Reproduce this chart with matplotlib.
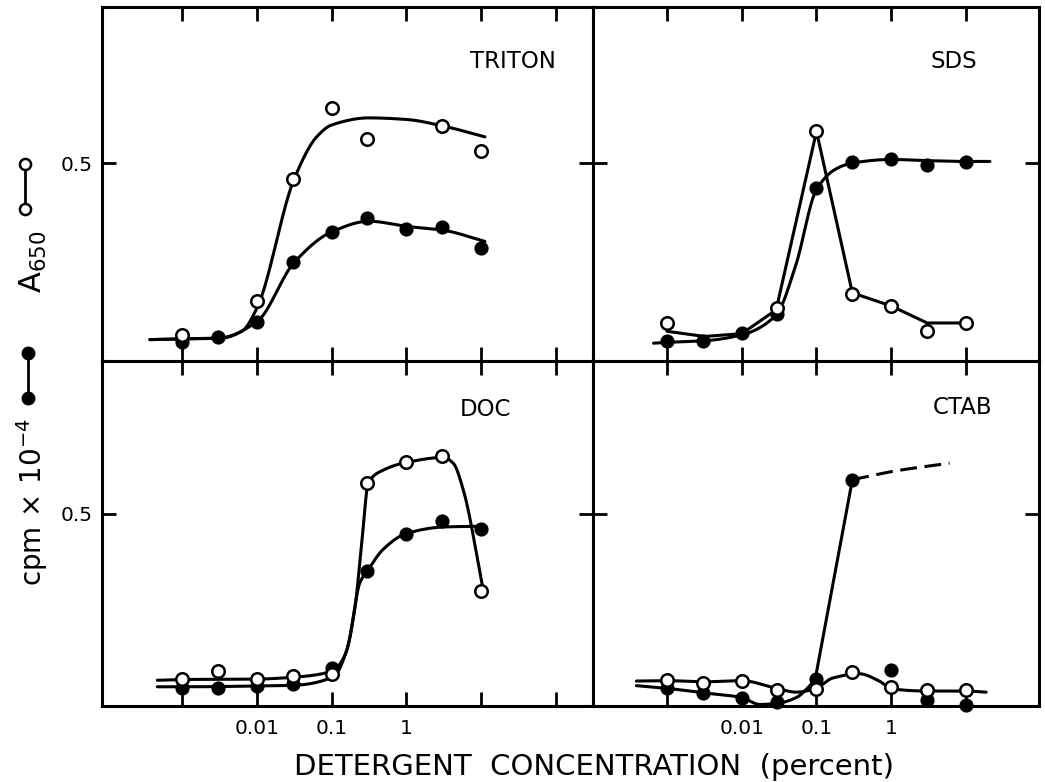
import numpy as np
import matplotlib
matplotlib.use("Agg")
import matplotlib.pyplot as plt
from matplotlib.lines import Line2D

# ---------------- data ----------------
conc = [0.001, 0.003, 0.01, 0.03, 0.1, 0.3, 1, 3, 10]
nan = np.nan

triton_open = [0.066, nan, 0.152, 0.46, 0.64, 0.56, nan, 0.593, 0.53]
triton_filled = [0.047, 0.060, 0.099, 0.25, 0.326, 0.36, 0.334, 0.338, 0.285]
sds_open = [0.096, nan, nan, 0.133, 0.58, 0.17, 0.139, 0.077, 0.096]
sds_filled = [0.051, 0.050, 0.070, 0.118, 0.437, 0.502, 0.51, 0.495, 0.503]
doc_open = [0.071, 0.090, 0.070, 0.077, 0.082, 0.58, 0.636, 0.651, 0.299]
doc_filled = [0.047, 0.047, 0.052, 0.056, 0.100, 0.352, 0.449, 0.481, 0.462]
ctab_open = [0.067, 0.060, 0.066, 0.041, 0.043, 0.088, 0.049, 0.041, 0.041]
ctab_filled = [0.047, 0.034, 0.022, 0.011, 0.069, 0.589, 0.093, 0.016, 0.002]

# hand-drawn fitted curves (log10 concentration, value)
triton_open_curve_lx = [-3.43, -3.0, -2.5, -2.2, -2.0, -1.5, -1.2, -1.0, -0.5, 0.0, 0.5, 1.05]
triton_open_curve_y = [0.054, 0.056, 0.057, 0.075, 0.133, 0.46, 0.566, 0.596, 0.614, 0.610, 0.593, 0.566]
triton_filled_curve_lx = [-3.43, -3.0, -2.5, -2.0, -1.5, -1.0, -0.5, 0.0, 0.5, 1.05]
triton_filled_curve_y = [0.054, 0.056, 0.058, 0.099, 0.249, 0.326, 0.353, 0.34, 0.33, 0.302]

sds_filled_curve_lx = [-3.18, -3.0, -2.5, -2.0, -1.54, -1.28, -1.0, -0.74, -0.52, 0.0, 0.48, 0.98, 1.32]
sds_filled_curve_y = [0.045, 0.047, 0.051, 0.066, 0.116, 0.24, 0.433, 0.485, 0.50, 0.509, 0.506, 0.504, 0.504]
sds_open_curve_lx = [-3.0, -2.5, -2.0, -1.54, -1.0, -0.52, 0.0, 0.48, 0.98]
sds_open_curve_y = [0.075, 0.062, 0.069, 0.129, 0.58, 0.172, 0.139, 0.096, 0.096]

doc_open_curve_lx = [-3.33, -3.0, -2.0, -1.5, -1.18, -0.97, -0.82, -0.69, -0.59, -0.51, -0.31, 0.0, 0.5, 0.63, 0.76, 1.03]
doc_open_curve_y = [0.067, 0.069, 0.070, 0.075, 0.082, 0.094, 0.133, 0.253, 0.44, 0.58, 0.614, 0.634, 0.647, 0.631, 0.563, 0.299]
doc_filled_curve_lx = [-3.33, -3.0, -2.0, -1.5, -0.97, -0.79, -0.62, -0.52, -0.31, 0.0, 0.5, 1.03]
doc_filled_curve_y = [0.050, 0.050, 0.052, 0.054, 0.077, 0.15, 0.322, 0.352, 0.408, 0.449, 0.466, 0.468]

ctab_open_curve_lx = [-3.41, -3.0, -2.5, -2.0, -1.52, -1.27, -1.02, -0.78, -0.43, -0.16, 0.0, 0.47, 0.98, 1.27]
ctab_open_curve_y = [0.065, 0.066, 0.063, 0.066, 0.045, 0.036, 0.045, 0.073, 0.084, 0.065, 0.045, 0.039, 0.039, 0.036]
ctab_filled_curve_lx = [-3.41, -3.0, -2.5, -2.0, -1.76, -1.52, -1.27, -1.02]
ctab_filled_curve_y = [0.053, 0.046, 0.034, 0.022, 0.004, 0.007, 0.022, 0.067]
ctab_jump_lx = [-1.02, -0.52]
ctab_jump_y = [0.067, 0.589]
ctab_dash_lx = [-0.52, 0.06, 0.78]
ctab_dash_y = [0.589, 0.612, 0.632]

x_ticks = [0.001, 0.01, 0.1, 1, 10, 100]
x_ticklabels = ["", "0.01", "0.1", "1", "", ""]


# ---------------- helpers ----------------
def pchip(xk, yk, xs):
    xk = np.asarray(xk, float)
    yk = np.asarray(yk, float)
    h = np.diff(xk)
    d = np.diff(yk) / h
    n = len(xk)
    m = np.zeros(n)
    for k in range(1, n - 1):
        if d[k - 1] * d[k] <= 0:
            m[k] = 0.0
        else:
            w1 = 2 * h[k] + h[k - 1]
            w2 = h[k] + 2 * h[k - 1]
            m[k] = (w1 + w2) / (w1 / d[k - 1] + w2 / d[k])
    m[0] = d[0]
    m[-1] = d[-1]
    idx = np.clip(np.searchsorted(xk, xs) - 1, 0, n - 2)
    t = (xs - xk[idx]) / h[idx]
    h00 = 2 * t**3 - 3 * t**2 + 1
    h10 = t**3 - 2 * t**2 + t
    h01 = -2 * t**3 + 3 * t**2
    h11 = t**3 - t**2
    return (h00 * yk[idx] + h10 * h[idx] * m[idx]
            + h01 * yk[idx + 1] + h11 * h[idx] * m[idx + 1])


def curve(ax, lx, y, smooth=True, **kw):
    if smooth:
        xs = np.linspace(lx[0], lx[-1], 400)
        ys = pchip(lx, y, xs)
    else:
        xs = np.asarray(lx, float)
        ys = np.asarray(y, float)
    ax.plot(10 ** xs, ys, color="black", lw=2.2, solid_capstyle="round",
            zorder=2, **kw)


def points(ax, vals, filled):
    if filled:
        ax.plot(conc, vals, "o", ms=9, mfc="black", mec="black", mew=1.2,
                zorder=3, clip_on=False)
    else:
        ax.plot(conc, vals, "o", ms=9, mfc="white", mec="black", mew=1.8,
                zorder=4, clip_on=False)


# ---------------- figure ----------------
W, H = 1045, 782
fig = plt.figure(figsize=(W / 100, H / 100), dpi=100)

def fx(px):
    return px / W

def fy(py):
    return 1 - py / H

xL0, xM, xR1 = 102, 593, 1039
yT0, yM, yB1 = 7, 361, 706

ax_tl = fig.add_axes([fx(xL0), fy(yM), fx(xM - xL0), (yM - yT0) / H])
ax_tr = fig.add_axes([fx(xM), fy(yM), fx(xR1 - xM), (yM - yT0) / H])
ax_bl = fig.add_axes([fx(xL0), fy(yB1), fx(xM - xL0), (yB1 - yM) / H])
ax_br = fig.add_axes([fx(xM), fy(yB1), fx(xR1 - xM), (yB1 - yM) / H])

for ax, left in [(ax_tl, True), (ax_tr, False), (ax_bl, True), (ax_br, False)]:
    ax.set_xscale("log")
    if left:
        ax.set_xlim(10 ** -4.07, 10 ** 2.495)
        ax.set_xticks(x_ticks)
    else:
        ax.set_xlim(10 ** -3.99, 10 ** 1.977)
        ax.set_xticks(x_ticks[:5])
    ax.minorticks_off()
    for sp in ax.spines.values():
        sp.set_linewidth(2.2)
    ax.tick_params(axis="both", which="both", direction="in", length=10,
                   width=2, top=True, right=True, labelsize=14.5, pad=7)
    ax.set_yticks([0.5])

ax_tl.set_ylim(0, 0.894)
ax_tr.set_ylim(0, 0.894)
ax_bl.set_ylim(0, 0.898)
ax_br.set_ylim(0, 0.898)

for ax in (ax_tl, ax_tr):
    ax.tick_params(labelbottom=False)
for ax in (ax_tr, ax_br):
    ax.tick_params(labelleft=False)
ax_tl.set_yticklabels(["0.5"])
ax_bl.set_yticklabels(["0.5"])
ax_bl.set_xticklabels(x_ticklabels)
ax_br.set_xticklabels(x_ticklabels[:5])
for ax in (ax_bl, ax_br):
    ax.tick_params(axis="x", pad=9)

# TRITON
curve(ax_tl, triton_open_curve_lx, triton_open_curve_y)
curve(ax_tl, triton_filled_curve_lx, triton_filled_curve_y)
points(ax_tl, triton_filled, True)
points(ax_tl, triton_open, False)

# SDS
curve(ax_tr, sds_filled_curve_lx, sds_filled_curve_y)
curve(ax_tr, sds_open_curve_lx, sds_open_curve_y, smooth=False)
points(ax_tr, sds_filled, True)
points(ax_tr, sds_open, False)

# DOC
curve(ax_bl, doc_open_curve_lx, doc_open_curve_y)
curve(ax_bl, doc_filled_curve_lx, doc_filled_curve_y)
points(ax_bl, doc_filled, True)
points(ax_bl, doc_open, False)

# CTAB
curve(ax_br, ctab_open_curve_lx, ctab_open_curve_y)
curve(ax_br, ctab_filled_curve_lx, ctab_filled_curve_y)
curve(ax_br, ctab_jump_lx, ctab_jump_y, smooth=False)
curve(ax_br, ctab_dash_lx, ctab_dash_y, dashes=(5.5, 2.5))
points(ax_br, ctab_filled, True)
points(ax_br, ctab_open, False)

# panel labels
lab_kw = dict(fontsize=16.5, ha="right", va="center")
ax_tl.text(0.925, 0.845, "TRITON", transform=ax_tl.transAxes, **lab_kw)
ax_tr.text(0.861, 0.845, "SDS", transform=ax_tr.transAxes, **lab_kw)
ax_bl.text(0.833, 0.858, "DOC", transform=ax_bl.transAxes, **lab_kw)
ax_br.text(0.895, 0.864, "CTAB", transform=ax_br.transAxes, **lab_kw)

# x label
fig.text(fx(594), fy(767), "DETERGENT  CONCENTRATION  (percent)",
         fontsize=21, ha="center", va="center")

# y labels with symbol keys
fig.text(fx(33), fy(262), r"A$_{650}$", fontsize=22, rotation=90,
         ha="center", va="center")
fig.text(fx(32), fy(502), r"cpm$\,\times\,$10$^{-4}$", fontsize=20,
         rotation=90, ha="center", va="center")

fig.add_artist(Line2D([fx(25), fx(25)], [fy(164), fy(209)], color="black",
                      lw=2, marker="o", ms=8, mfc="white", mec="black",
                      mew=1.8, transform=fig.transFigure))
fig.add_artist(Line2D([fx(28), fx(28)], [fy(353), fy(398)], color="black",
                      lw=2, marker="o", ms=9, mfc="black", mec="black",
                      transform=fig.transFigure))

fig.savefig("out.png", dpi=100, facecolor="white")
